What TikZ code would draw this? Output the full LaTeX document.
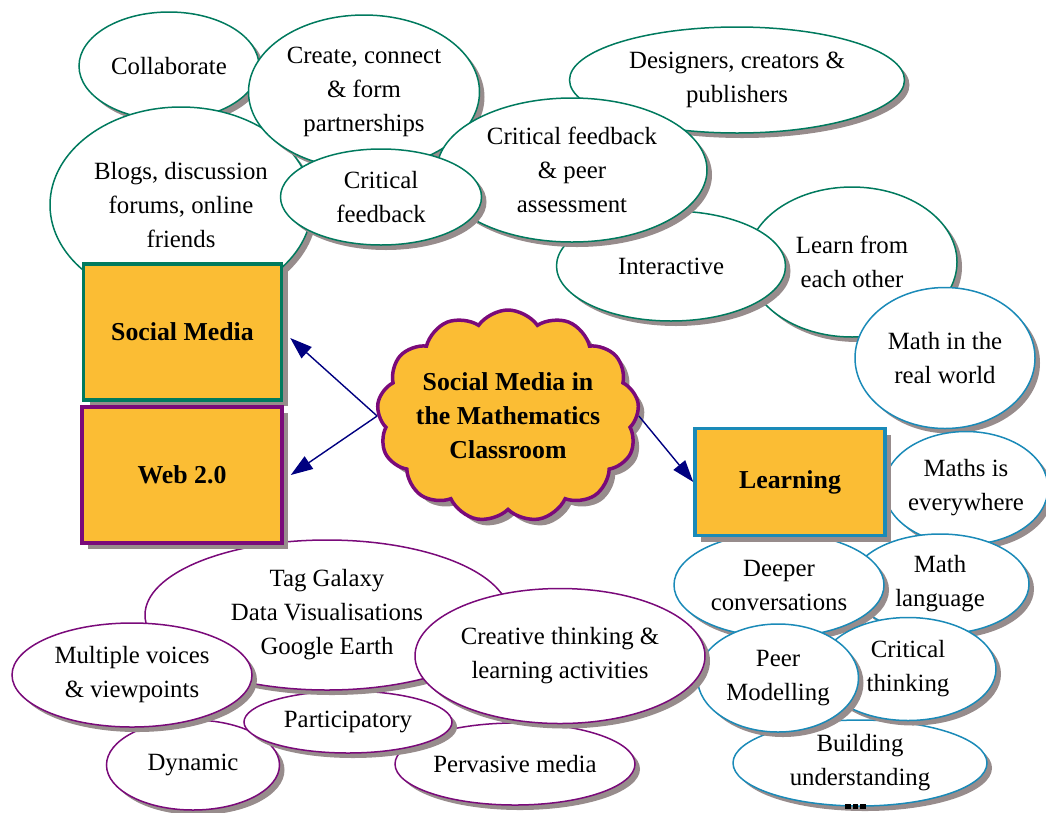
\documentclass[tikz,border=0pt]{standalone}
\usepackage{fontspec}
\setmainfont{Liberation Serif}
\usetikzlibrary{arrows.meta, positioning, shadows, shapes.geometric, shapes.symbols}
\definecolor{SocGreen}{RGB}{0,122,94}
\definecolor{WebPurple}{RGB}{122,10,122}
\definecolor{LearnBlue}{RGB}{26,138,184}
\definecolor{BoxOrange}{RGB}{251,189,52}
\definecolor{ShadowGray}{RGB}{151,140,140}
\definecolor{Navy}{RGB}{0,0,128}

\tikzset{
  bubble/.style={ellipse, fill=white, line width=1.5pt, inner sep=-6pt, align=center,
    font=\fontsize{24.8}{34}\selectfont,
    drop shadow={shadow xshift=5pt, shadow yshift=-5pt, fill=ShadowGray, opacity=1}},
  greenbub/.style={bubble, draw=SocGreen},
  bluebub/.style={bubble, draw=LearnBlue},
  purplebub/.style={bubble, draw=WebPurple},
  esize/.style 2 args={minimum width=#1pt, minimum height=#2pt},
  topic/.style={rectangle, fill=BoxOrange, line width=3.5pt,
    font=\fontsize{25.8}{34}\selectfont\bfseries,
    drop shadow={shadow xshift=6pt, shadow yshift=-6pt, fill=ShadowGray, opacity=1}},
  cloudbox/.style={cloud, cloud puffs=13, cloud puff arc=110, aspect=1.25,
    fill=BoxOrange, draw=WebPurple, line width=3.5pt, inner sep=-30pt, align=center,
    font=\fontsize{25.8}{34}\selectfont\bfseries,
    drop shadow={shadow xshift=6pt, shadow yshift=-6pt, fill=ShadowGray, opacity=1}},
  conn/.style={draw=Navy, line width=1.4pt, -{Triangle[length=22pt,width=15pt]}}
}

\begin{document}
\begin{tikzpicture}[x=1pt, y=-1pt]
  \useasboundingbox (0,0) rectangle (1046,812);

  % social media side
  \node[greenbub, esize={180}{108}] (collab) at (169,66) {Collaborate};
  \node[greenbub, esize={262}{196}] (blogs) at (181,205) {Blogs, discussion\\forums, online\\friends};
  \node[greenbub, esize={231}{154}] (create) at (364,92) {Create, connect\\\& form\\partnerships};
  \node[greenbub, esize={335}{106}] (designers) at (737,80) {Designers, creators \&\\publishers};
  \node[greenbub, esize={210}{150}] (learnfrom) at (852,262) {Learn from\\each other};
  \node[greenbub, esize={229}{110}] (interact) at (671,266) {Interactive};
  \node[greenbub, esize={270}{144}] (critpeer) at (572,170) {Critical feedback\\\& peer\\assessment};
  \node[greenbub, esize={201}{96}] (critfb) at (381,197) {Critical\\feedback};

  % learning side
  \node[bluebub, esize={180}{141}] (realworld) at (945,358) {Math in the\\real world};
  \node[bluebub, esize={164}{113}] (everywhere) at (966,488) {Maths is\\everywhere};
  \node[bluebub, esize={178}{100}] (mathlang) at (940,584) {Math\\language};
  \node[bluebub, esize={210}{104}] (deeper) at (779,585) {Deeper\\conversations};
  \node[bluebub, esize={254}{86}] (building) at (860,763) {Building\\understanding};
  \node[bluebub, esize={176}{103}] (critthink) at (908,669) {Critical\\thinking};
  \node[bluebub, esize={161}{108}] (peermod) at (778,678) {Peer\\Modelling};

  % web 2.0 side
  \node[purplebub, esize={173}{90}] (dynamic) at (193,765) {Dynamic};
  \node[purplebub, esize={240}{82}] (pervasive) at (515,764) {Pervasive media};
  \node[purplebub, esize={208}{62}] (particip) at (348,722) {Participatory};
  \node[purplebub, esize={364}{150}] (taggal) at (327,615) {Tag Galaxy\\Data Visualisations\\Google Earth};
  \node[purplebub, esize={240}{104}] (multivoice) at (132,675) {Multiple voices\\\& viewpoints};
  \node[purplebub, esize={290}{135}] (creative) at (560,656) {Creative thinking \&\\learning activities};

  \node[topic, draw=SocGreen, minimum width=198pt, minimum height=136pt] (socmed) at (182.5,332) {Social Media};
  \node[topic, draw=WebPurple, minimum width=200pt, minimum height=136pt] (webtwo) at (182,475) {Web 2.0};
  \node[topic, draw=LearnBlue, minimum width=190pt, minimum height=107pt] (learning) at (790,482) {Learning};

  \node[cloudbox, minimum width=262pt, minimum height=212pt] (hub) at (508,416) {Social Media in\\the Mathematics\\Classroom};

  \draw[conn] (hub.west) -- ([xshift=7pt,yshift=-6pt]socmed.east);
  \draw[conn] (hub.west) -- ([xshift=7pt]webtwo.east);
  \draw[conn] (hub.east) -- (learning.west);

  \foreach \i in {0,1,2}
    \fill (845+\i*7.5,804) rectangle ++(5.5,5);
\end{tikzpicture}
\end{document}
